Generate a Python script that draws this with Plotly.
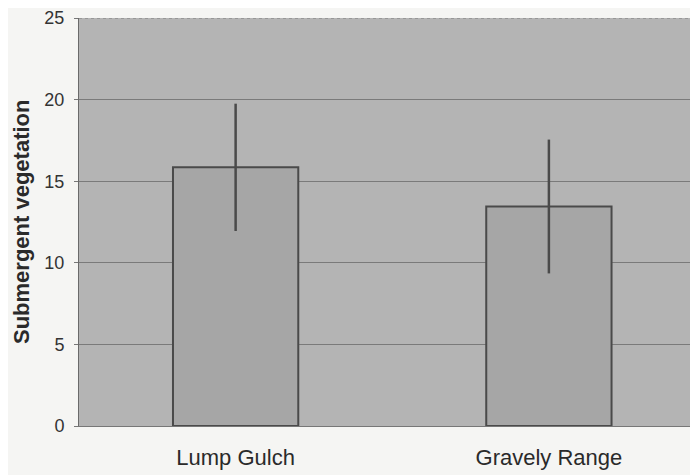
import plotly.graph_objects as go

categories = ["Lump Gulch", "Gravely Range"]
values = [15.85, 13.45]
errors = [3.9, 4.1]
y_ticks = [0, 5, 10, 15, 20, 25]

fig = go.Figure()
fig.add_trace(go.Bar(
    x=categories, y=values, width=0.40,
    marker=dict(color="#a6a6a6", line=dict(color="#4a4a4a", width=2)),
    error_y=dict(type="data", array=errors, visible=True, color="#4a4a4a",
                 thickness=2.5, width=0),
))
fig.update_layout(
    width=690, height=467,
    margin=dict(l=71, r=0, t=10, b=49, autoexpand=False),
    paper_bgcolor="#f5f5f3",
    plot_bgcolor="#b4b4b4",
    showlegend=False,
    font=dict(family="Liberation Sans, Arial, sans-serif", color="#333333"),
)
fig.update_xaxes(
    range=[-0.5, 1.476], showgrid=False, showline=True, linecolor="#777777",
    linewidth=1, tickfont=dict(size=22, color="#2a2a2a"), ticks="",
    ticklabelstandoff=12, automargin=False,
)
fig.update_yaxes(
    range=[0, 25], tickvals=y_ticks, showgrid=True, gridcolor="#7a7a7a",
    gridwidth=1, showline=True, linecolor="#6a6a6a", linewidth=1,
    ticks="outside", ticklen=4, tickcolor="#777777",
    tickfont=dict(size=18, color="#333333"), ticklabelstandoff=6,
    zeroline=False, automargin=False,
)
fig.add_annotation(
    text="<b>Submergent vegetation</b>", xref="paper", yref="paper",
    x=0, y=0.5, xshift=-58, textangle=-90, showarrow=False,
    xanchor="center", yanchor="middle",
    font=dict(size=22, color="#2a2a2a"),
)
fig.add_shape(type="line", xref="paper", yref="y", x0=0, x1=1, y0=25, y1=25,
              line=dict(color="#7a7a7a", width=1, dash="dot"))
fig.write_html("out.html")
